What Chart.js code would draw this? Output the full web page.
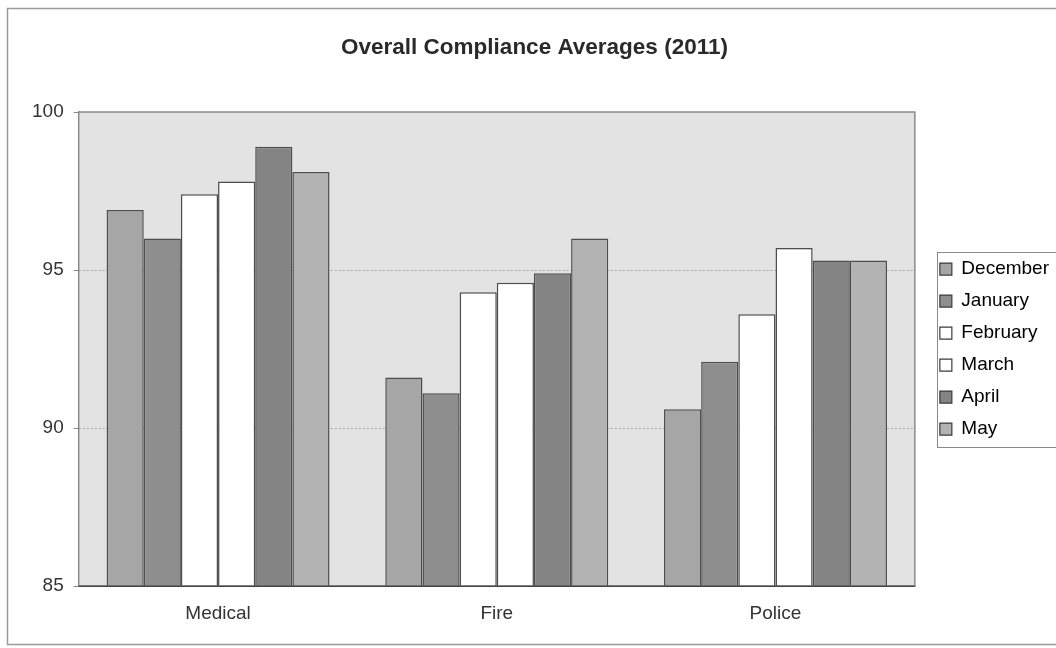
<!DOCTYPE html>
<html>
<head>
<meta charset="utf-8">
<title>Overall Compliance Averages (2011)</title>
<script src="https://cdn.jsdelivr.net/npm/chart.js@4.4.1/dist/chart.umd.min.js"></script>
<style>
  html, body { margin: 0; padding: 0; background: #ffffff; }
  #wrap { position: relative; width: 1056px; height: 648px; }
  canvas { display: block; }
</style>
</head>
<body>
<div id="wrap"><canvas id="chart" width="1056" height="648"></canvas></div>
<script>
// Departments on the x axis
const categories = ['Medical', 'Fire', 'Police'];

// Monthly compliance averages per department
const december = [96.9, 91.6, 90.6];
const january  = [96.0, 91.1, 92.1];
const february = [97.4, 94.3, 93.6];
const march    = [97.8, 94.6, 95.7];
const april    = [98.9, 94.9, 95.3];
const may      = [98.1, 96.0, 95.3];

const seriesNames = ['December', 'January', 'February', 'March', 'April', 'May'];
const seriesValues = [december, january, february, march, april, may];
const seriesFills = ['#a6a6a6', '#8e8e8e', '#ffffff', '#ffffff', '#848484', '#b3b3b3'];

const yMin = 85, yMax = 100, yStep = 5;

const FONT = '"Liberation Sans", Arial, sans-serif';

// Grey plot background, dotted gridlines, frames and the legend box
const plotFrame = {
  id: 'plotFrame',
  afterLayout(chart) {
    // sit the legend a little away from the plot and centre it on the plot height
    const lg = chart.legend, a = chart.chartArea;
    const w = lg.width;
    lg.left = a.right + 12;
    lg.right = lg.left + w;
    lg.top = a.top;
    lg.bottom = a.bottom;
    lg.height = a.bottom - a.top;
  },
  beforeDatasetsDraw(chart) {
    const { ctx, chartArea: a } = chart;
    ctx.save();
    ctx.fillStyle = '#e3e3e3';
    ctx.fillRect(a.left, a.top, a.right - a.left, a.bottom - a.top);
    const y = chart.scales.y;
    ctx.strokeStyle = '#a8a8a8';
    ctx.lineWidth = 1;
    ctx.setLineDash([2, 2]);
    y.ticks.forEach(t => {
      if (t.value > yMin && t.value < yMax) {
        const py = Math.round(y.getPixelForValue(t.value)) + 0.5;
        ctx.beginPath();
        ctx.moveTo(a.left, py);
        ctx.lineTo(a.right, py);
        ctx.stroke();
      }
    });
    ctx.restore();
  },
  afterDatasetsDraw(chart) {
    const { ctx, chartArea: a } = chart;
    ctx.save();
    ctx.strokeStyle = '#8a8a8a';
    ctx.lineWidth = 1.5;
    ctx.strokeRect(a.left, a.top, a.right - a.left, a.bottom - a.top);
    ctx.strokeStyle = '#444';
    ctx.beginPath();
    ctx.moveTo(a.left, a.bottom);
    ctx.lineTo(a.right, a.bottom);
    ctx.stroke();
    ctx.restore();
  },
  afterDraw(chart) {
    const { ctx } = chart;
    ctx.save();
    // outer chart border
    ctx.strokeStyle = '#9a9a9a';
    ctx.lineWidth = 1.5;
    ctx.strokeRect(7.5, 8.5, chart.width, chart.height - 12);
    // border round the legend entries
    const boxes = chart.legend.legendHitBoxes;
    if (boxes && boxes.length) {
      let t = Infinity, b = -Infinity;
      boxes.forEach(h => { t = Math.min(t, h.top); b = Math.max(b, h.top + h.height); });
      const l = chart.legend.left + 10;
      ctx.strokeStyle = '#8a8a8a';
      ctx.lineWidth = 1;
      ctx.strokeRect(Math.round(l) + 0.5, Math.round(t - 8) + 0.5, 200, Math.round(b - t + 16));
    }
    ctx.restore();
  }
};

new Chart(document.getElementById('chart'), {
  type: 'bar',
  data: {
    labels: categories,
    datasets: seriesNames.map((name, i) => ({
      label: name,
      data: seriesValues[i],
      backgroundColor: seriesFills[i],
      borderColor: '#4d4d4d',
      borderWidth: 1.5,
      borderSkipped: 'bottom',
      categoryPercentage: 0.8,
      barPercentage: 1.0
    }))
  },
  options: {
    responsive: false,
    animation: false,
    layout: { padding: { left: 22, right: 9, top: 30, bottom: 15 } },
    plugins: {
      title: {
        display: true,
        text: 'Overall Compliance Averages (2011)',
        color: '#2a2a2a',
        font: { family: FONT, size: 22.5, weight: 'bold' },
        padding: { top: 4, bottom: 51 }
      },
      legend: {
        position: 'right',
        align: 'center',
        labels: {
          color: '#333',
          font: { family: FONT, size: 19 },
          boxWidth: 12,
          boxHeight: 12,
          padding: 13,
          generateLabels(chart) {
            return chart.data.datasets.map((d, i) => ({
              text: d.label,
              fillStyle: d.backgroundColor,
              strokeStyle: '#3a3a3a',
              lineWidth: 1.2,
              hidden: false,
              datasetIndex: i
            }));
          }
        }
      },
      tooltip: { enabled: false }
    },
    scales: {
      x: {
        grid: { display: false },
        border: { display: false },
        ticks: { color: '#333', font: { family: FONT, size: 19 }, padding: 8 }
      },
      y: {
        min: yMin,
        max: yMax,
        ticks: { stepSize: yStep, color: '#333', font: { family: FONT, size: 19 }, padding: 10 },
        grid: { drawOnChartArea: false, drawTicks: true, tickLength: 5, color: '#888' },
        border: { display: true, color: '#8a8a8a', width: 1.5 }
      }
    }
  },
  plugins: [plotFrame]
});
</script>
</body>
</html>
